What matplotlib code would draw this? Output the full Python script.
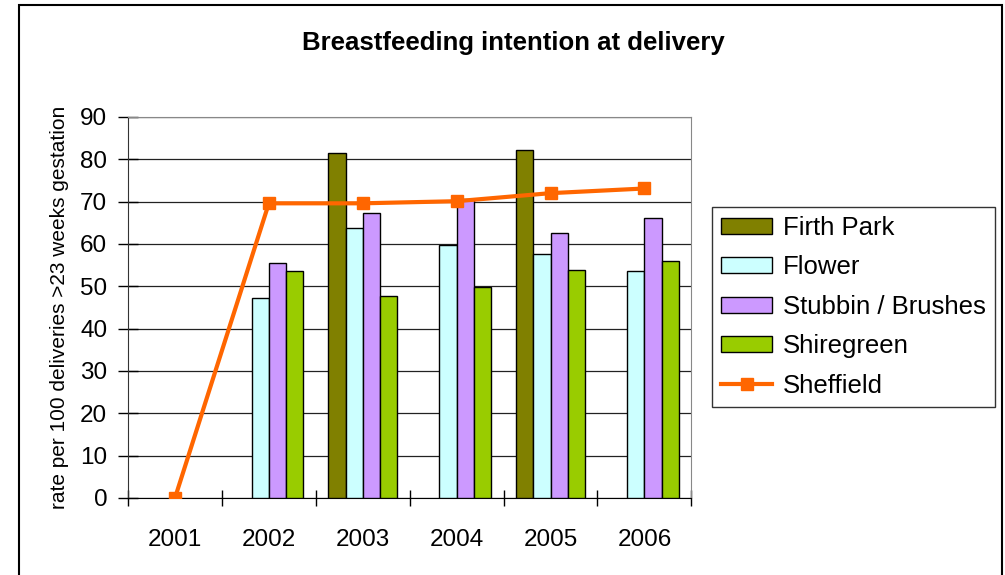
import numpy as np
import matplotlib
matplotlib.use("Agg")
from matplotlib import pyplot as plt
from matplotlib.lines import Line2D
from matplotlib.patches import Patch, Rectangle

plt.rcParams['font.family'] = ['Liberation Sans', 'DejaVu Sans']

years = ["2001", "2002", "2003", "2004", "2005", "2006"]
firth_park = [np.nan, np.nan, 81.6, np.nan, 82.3, np.nan]
flower = [np.nan, 47.2, 63.8, 59.7, 57.7, 53.6]
stubbin = [np.nan, 55.5, 67.2, 70.6, 62.7, 66.1]
shiregreen = [np.nan, 53.6, 47.6, 49.8, 53.9, 55.9]
sheffield = [0.0, 69.6, 69.6, 70.1, 72.0, 73.1]

series = [("Firth Park", firth_park, "#808000"),
          ("Flower", flower, "#ccffff"),
          ("Stubbin / Brushes", stubbin, "#cc99ff"),
          ("Shiregreen", shiregreen, "#99cc00")]

fig = plt.figure(figsize=(10.05, 5.75), dpi=100)
# outer chart border
fig.patches.append(Rectangle((0.0189, -0.02), 0.978, 1.0113, transform=fig.transFigure,
                             fill=False, edgecolor="black", linewidth=1.5))
ax = fig.add_axes([0.1274, 0.134, 0.5605, 0.6626])

x = np.arange(len(years))
w = 0.183
for i, (name, vals, col) in enumerate(series):
    ax.bar(x + (i - 1.5) * w, vals, w, color=col, edgecolor="black",
           linewidth=1.0, label=name, zorder=3)

ax.plot(x, sheffield, color="#ff6600", linewidth=3.0, marker="s",
        markersize=9, label="Sheffield", zorder=4)

ax.set_ylim(0, 90)
ax.set_xlim(-0.5, len(years) - 0.5)
ax.set_yticks(range(0, 91, 10))
ax.yaxis.grid(True, color="#222222", linewidth=0.9, zorder=0)
ax.set_axisbelow(True)

ax.set_xticks(x)
ax.set_xticklabels(years, fontsize=17.5)
ax.set_xticks(np.arange(-0.5, len(years)), minor=True)
ax.tick_params(axis="x", which="major", length=0, pad=22)
ax.tick_params(axis="x", which="minor", length=11, width=1, direction="inout")
ax.tick_params(axis="y", labelsize=17.5, length=14, width=1, direction="inout", pad=8)

ax.spines["top"].set_color("#888888")
ax.spines["right"].set_color("#888888")
ax.spines["left"].set_color("#333333")
ax.spines["bottom"].set_color("black")

ax.set_ylabel("rate per 100 deliveries >23 weeks gestation", fontsize=15, labelpad=8)
fig.text(0.511, 0.925, "Breastfeeding intention at delivery", ha="center", va="center",
         fontsize=18.5, fontweight="bold")

handles = [Patch(facecolor=c, edgecolor="black", label=n) for n, _, c in series]
handles.append(Line2D([], [], color="#ff6600", linewidth=3.0, marker="s",
                      markersize=9, label="Sheffield"))
leg = fig.legend(handles=handles, loc="upper left", bbox_to_anchor=(0.7085, 0.64),
                 fontsize=18.5, frameon=True, fancybox=False, edgecolor="black",
                 handlelength=2.0, handleheight=0.57, labelspacing=0.6,
                 borderpad=0.35, handletextpad=0.4, borderaxespad=0)
leg.get_frame().set_linewidth(1.0)

plt.savefig("out.png", dpi=100)
